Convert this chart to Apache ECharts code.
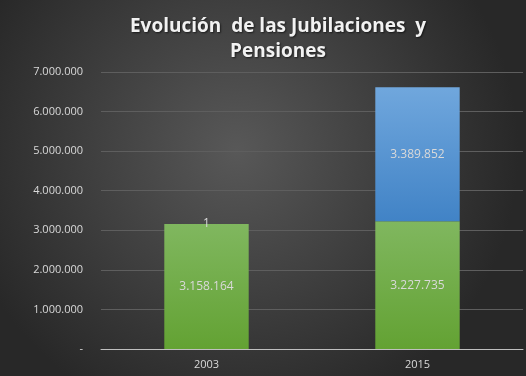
<!DOCTYPE html>
<html lang="es">
<head>
    <meta charset="UTF-8">
    <title>Evolución de las Jubilaciones y Pensiones</title>
    <script src="https://cdn.jsdelivr.net/npm/echarts@6.0.0/dist/echarts.min.js"></script>
    <style>
        html, body { margin: 0; padding: 0; }
        #main { width: 526px; height: 376px; }
    </style>
</head>
<body>
    <div id="main"></div>
    <script>
        // datos
        var years = ['2003', '2015'];
        var jubilaciones = [3158164, 3227735];
        var pensiones = [1, 3389852];

        function puntos(v) {
            // 3158164 -> 3.158.164
            return String(v).replace(/\B(?=(\d{3})+(?!\d))/g, '.');
        }

        var myChart = echarts.init(document.getElementById('main'));

        var labelStyle = {
            show: true,
            position: 'inside',
            color: '#d9d9d9',
            fontSize: 12,
            fontFamily: 'Open Sans',
            formatter: function (p) { return puntos(p.value); }
        };

        myChart.setOption({
            backgroundColor: {
                type: 'radial', x: 0.45, y: 0.4, r: 0.75,
                colorStops: [
                    { offset: 0, color: '#585858' },
                    { offset: 1, color: '#282828' }
                ]
            },
            title: {
                text: 'Evolución  de las Jubilaciones  y\nPensiones',
                left: 273,
                textAlign: 'center',
                top: 9,
                textStyle: {
                    color: '#f2f2f2',
                    fontSize: 19,
                    fontWeight: 'bold',
                    fontFamily: 'Open Sans',
                    lineHeight: 25,
                    textShadowColor: 'rgba(0,0,0,0.6)',
                    textShadowBlur: 2,
                    textShadowOffsetX: 1,
                    textShadowOffsetY: 1
                }
            },
            grid: { left: 101, right: 3, top: 72, bottom: 27 },
            xAxis: {
                type: 'category',
                data: years,
                axisLine: { lineStyle: { color: '#bfbfbf', width: 1 } },
                axisTick: { show: false },
                axisLabel: { color: '#d9d9d9', fontSize: 11, fontFamily: 'Open Sans', margin: 10 }
            },
            yAxis: {
                type: 'value',
                min: 0,
                max: 7000000,
                interval: 1000000,
                axisLine: { show: false },
                axisTick: { show: false },
                splitLine: { lineStyle: { color: '#5e5e5e', width: 1 } },
                axisLabel: {
                    color: '#d9d9d9',
                    fontSize: 11,
                    fontFamily: 'Open Sans',
                    margin: 18,
                    formatter: function (v) { return v === 0 ? '-' : puntos(v); }
                }
            },
            series: [
                {
                    name: 'Jubilaciones',
                    type: 'bar',
                    stack: 'total',
                    barWidth: '40%',
                    data: jubilaciones,
                    itemStyle: {
                        color: {
                            type: 'linear', x: 0, y: 0, x2: 0, y2: 1,
                            colorStops: [
                                { offset: 0, color: '#80b75f' },
                                { offset: 1, color: '#63a233' }
                            ]
                        }
                    },
                    label: labelStyle
                },
                {
                    name: 'Pensiones',
                    type: 'bar',
                    stack: 'total',
                    barWidth: '40%',
                    data: pensiones,
                    itemStyle: {
                        color: {
                            type: 'linear', x: 0, y: 0, x2: 0, y2: 1,
                            colorStops: [
                                { offset: 0, color: '#70a7dd' },
                                { offset: 1, color: '#4183c6' }
                            ]
                        }
                    },
                    label: labelStyle
                }
            ]
        });
    </script>
</body>
</html>
